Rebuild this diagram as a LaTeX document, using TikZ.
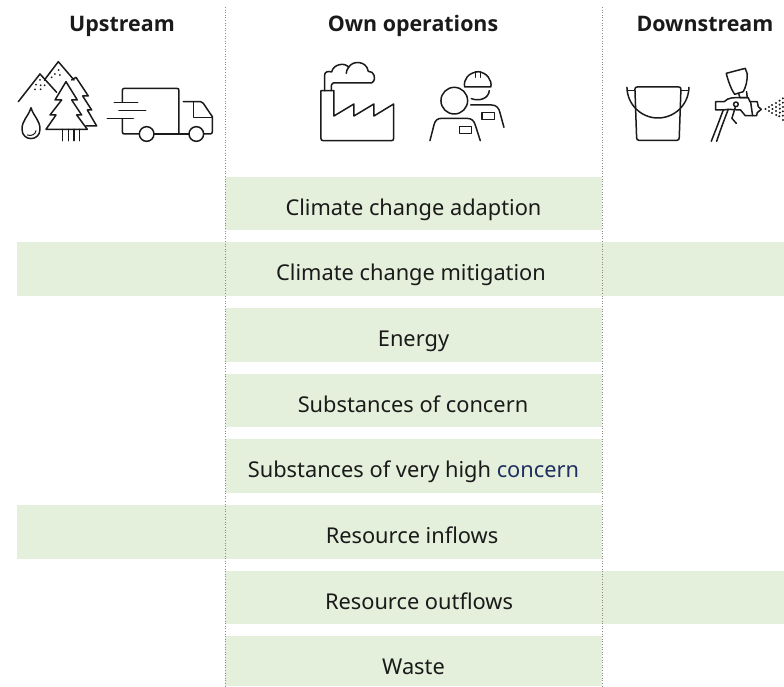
\documentclass[tikz,border=0pt]{standalone}
\usepackage{fontspec}
\setmainfont{Noto Sans}
\newfontfamily\headfont{Open Sans}
\definecolor{band}{HTML}{E4F0DB}
\definecolor{inkc}{HTML}{1A1A1A}
\definecolor{concernblue}{HTML}{1F2F5F}
\definecolor{sep}{HTML}{8A8A8A}
\tikzset{
  bandlabel/.style={anchor=base,inner sep=0pt,font=\fontsize{21.8}{25}\selectfont,text=inkc},
  headtxt/.style={anchor=base,inner sep=0pt,font=\fontsize{21.4}{24}\selectfont\headfont\bfseries,text=inkc},
  sepline/.style={draw=sep,line width=0.9pt,dash pattern=on 0.9pt off 1.7pt},
  icon/.style={draw=inkc,line width=1.5pt,line cap=round,line join=round},
  thinicon/.style={draw=inkc,line width=1pt,line cap=round,line join=round},
  zoomA/.style={x=0.3333pt,y=-0.3333pt}
}
\begin{document}
\begin{tikzpicture}[x=1pt,y=-1pt]
\useasboundingbox (0,0) rectangle (784,686);
% side bands
\fill[band] (17,242) rectangle (225,296);
\fill[band] (602,242) rectangle (784,296);
\fill[band] (17,505) rectangle (225,559);
\fill[band] (602,571) rectangle (784,624);
% centre bands
\fill[band] (225,177) rectangle (602,230);
\fill[band] (225,242) rectangle (602,296);
\fill[band] (225,308) rectangle (602,362);
\fill[band] (225,374) rectangle (602,427);
\fill[band] (225,439) rectangle (602,493);
\fill[band] (225,505) rectangle (602,559);
\fill[band] (225,571) rectangle (602,624);
\fill[band] (225,636) rectangle (602,686);
\node[bandlabel] (b1) at (413.5,215) {Climate change adaption};
\node[bandlabel] (b2) at (411,280.5) {Climate change mitigation};
\node[bandlabel] (b3) at (413.5,346) {Energy};
\node[bandlabel] (b4) at (413,412) {Substances of concern};
\node[bandlabel] (b5) at (413.5,477.5) {Substances of very high \textcolor{concernblue}{concern}};
\node[bandlabel] (b6) at (412,543) {Resource inflows};
\node[bandlabel] (b7) at (419,609) {Resource outflows};
\node[bandlabel] (b8) at (413.5,674) {Waste};
% separators
\draw[sepline] (225,7) -- (225,686);
\draw[sepline] (602.5,7) -- (602.5,686);
% headers
\node[headtxt] (h1) at (122,31) {Upstream};
\node[headtxt] (h2) at (413,31) {Own operations};
\node[headtxt] (h3) at (705,31) {Downstream};
% ---- mountains, trees, drop
\begin{scope}[zoomA]
\draw[icon] (55,305) -- (120,222) -- (170,277);
\draw[icon] (137,235) -- (175,185) -- (222,240);
\draw[icon] (215,240) -- (228,232) -- (265,288) -- (248,288) -- (275,330) -- (262,330) -- (290,378) -- (258,378);
\draw[icon] (198,245) -- (232,300) -- (215,300) -- (245,345) -- (230,345) -- (262,388) -- (138,388) -- (168,345) -- (150,345) -- (185,300) -- (165,300) -- cycle;
\foreach \tx in {188,205,222,238} \draw[icon] (\tx,388) -- (\tx,422);
\draw[icon] (93,323) .. controls (85,350) and (66,360) .. (66,388) .. controls (66,425) and (120,425) .. (120,388) .. controls (120,360) and (101,350) .. (93,323) -- cycle;
\draw[thinicon] (82,405) .. controls (95,410) and (107,402) .. (108,392);
\foreach \dx/\dy in {176/210,165/222,155/232,180/225,120/240,108/254,122/256,134/256,105/268,122/268,134/240,150/218} \fill[inkc] (\dx,\dy) circle[radius=3];
\end{scope}
% ---- truck
\begin{scope}[zoomA]
\draw[icon] (367,305) -- (367,272) .. controls (367,267) and (369,265) .. (374,265) -- (530,265) .. controls (535,265) and (537,267) .. (537,272) -- (537,402);
\draw[icon] (367,358) -- (367,395) .. controls (367,400) and (369,402) .. (374,402) -- (418,402);
\draw[icon] (462,402) -- (567,402);
\draw[icon] (440,402) circle[radius=22];
\draw[icon] (589,402) circle[radius=22];
\draw[icon] (611,402) -- (630,402) .. controls (635,402) and (637,400) .. (637,395) -- (637,350) -- (610,310) .. controls (608,306) and (606,305) .. (602,305) -- (550,305);
\draw[icon] (580,305) -- (580,353) -- (635,353);
\draw[icon] (343,307) -- (413,307);
\draw[icon] (357,331) -- (437,331);
\draw[icon] (322,356) -- (400,356);
\end{scope}
% ---- factory
\begin{scope}[zoomA,shift={(900,150)}]
\draw[icon] (102,122) -- (102,198) -- (162,162) -- (162,198) -- (222,162) -- (222,198) -- (281,162) -- (281,265) .. controls (281,270) and (279,272) .. (274,272) -- (70,272) .. controls (65,272) and (63,270) .. (63,265) -- (63,122) -- cycle;
\draw[icon] (74,122) -- (74,75) .. controls (74,66) and (84,62) .. (95,66) .. controls (100,42) and (135,36) .. (146,52) .. controls (158,30) and (200,32) .. (205,64) .. controls (222,62) and (232,88) .. (215,99) -- (100,99) .. controls (94,99) and (94,104) .. (94,122);
\draw[icon] (146,52) .. controls (141,58) and (139,64) .. (139,70);
\end{scope}
% ---- workers
\begin{scope}[zoomA,shift={(900,150)}]
\draw[icon] (463,152) circle[radius=40];
\draw[icon] (390,272) -- (402,225) .. controls (405,212) and (412,205) .. (425,205) -- (500,205) .. controls (515,205) and (522,212) .. (526,225) -- (541,272);
\draw[icon] (478,230) rectangle (514,250);
\draw[icon] (494,111) .. controls (490,88) and (505,68) .. (535,65) .. controls (560,68) and (576,88) .. (573,111) -- cycle;
\draw[icon] (527,82) -- (527,65) -- (541,65) -- (541,82);
\draw[icon] (568,122) .. controls (566,145) and (540,155) .. (514,146);
\draw[icon] (512,165) -- (575,165) .. controls (590,165) and (597,175) .. (600,188) -- (612,232);
\draw[icon] (546,188) rectangle (583,208);
\end{scope}
% ---- bucket
\begin{scope}[zoomA,shift={(1800,150)}]
\draw[icon] (105,118) .. controls (105,113) and (107,111) .. (112,111) -- (236,111) .. controls (241,111) and (243,113) .. (243,118) -- (238,262) .. controls (238,268) and (236,271) .. (231,271) -- (117,271) .. controls (112,271) and (110,268) .. (110,262) -- cycle;
\draw[icon] (81,112) .. controls (82,165) and (125,204) .. (174,204) .. controls (223,204) and (266,165) .. (267,112);
\draw[icon] (83,122) -- (105,122);
\draw[icon] (243,122) -- (265,122);
\end{scope}
% ---- spray gun
\begin{scope}[zoomA,shift={(1800,150)}]
\draw[icon] (379,70) -- (436,55) -- (442,72) .. controls (442,95) and (438,110) .. (430,125) -- (404,133) .. controls (395,120) and (385,95) .. (379,70) -- cycle;
\draw[icon] (416,130) -- (420,143) -- (442,143) -- (440,125);
\draw[icon] (347,155) -- (373,155) .. controls (385,142) and (400,143) .. (420,143) -- (445,143) -- (450,155) -- (472,155) -- (475,170) -- (484,178) -- (472,188) -- (470,197) -- (436,197) -- (422,180) -- (385,178) -- (370,180) -- (347,180) -- cycle;
\draw[icon] (452,155) -- (458,197);
\draw[icon] (370,180) -- (352,228);
\draw[icon] (385,178) -- (366,228);
\draw[icon] (352,228) -- (334,274);
\draw[icon] (366,228) -- (350,274);
\draw[icon] (408,163) circle[radius=7];
\draw[icon] (406,172) -- (396,205) -- (409,220);
\foreach \dx/\dy in {497/177,507/171,507/183,516/165,518/177,516/189,528/159,528/171,528/183,529/195,539/152,539/164,540/176,540/188,538/199,549/145,549/158,549/171,549/184,549/197,549/210} \fill[inkc] (\dx,\dy) circle[radius=3.4];
\end{scope}
\end{tikzpicture}
\end{document}
